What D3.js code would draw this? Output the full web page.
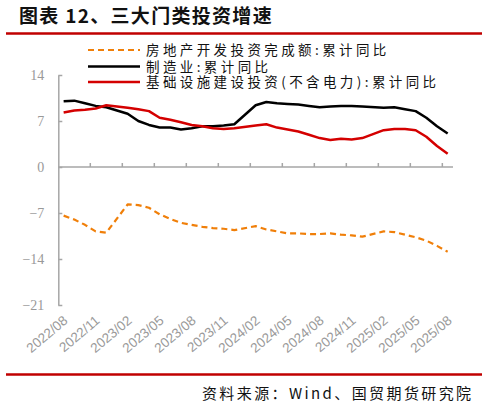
<!DOCTYPE html>
<html>
<head>
<meta charset="utf-8">
<script src="https://cdn.jsdelivr.net/npm/d3@7"></script>
<style>
  body { margin: 0; background: #fff; }
  svg { display: block; }
</style>
</head>
<body>
<svg id="chart"></svg>
<script>
// months on the category axis (January not published, left as null)
var months = ["2022/08","2022/09","2022/10","2022/11","2022/12",
  "2023/01","2023/02","2023/03","2023/04","2023/05","2023/06","2023/07","2023/08","2023/09","2023/10","2023/11","2023/12",
  "2024/01","2024/02","2024/03","2024/04","2024/05","2024/06","2024/07","2024/08","2024/09","2024/10","2024/11","2024/12",
  "2025/01","2025/02","2025/03","2025/04","2025/05","2025/06","2025/07","2025/08"];

var realEstate = [-7.4,-8.0,-8.8,-9.8,-10.0,
  null,-5.7,-5.8,-6.2,-7.2,-7.9,-8.5,-8.8,-9.1,-9.3,-9.4,-9.6,
  null,-9.0,-9.5,-9.8,-10.1,-10.1,-10.2,-10.2,-10.1,-10.3,-10.4,-10.6,
  null,-9.8,-9.9,-10.3,-10.7,-11.2,-12.0,-12.9];

var manufacturing = [10.0,10.1,9.7,9.3,9.1,
  null,8.1,7.0,6.4,6.0,6.0,5.7,5.9,6.2,6.2,6.3,6.5,
  null,9.4,9.9,9.7,9.6,9.5,9.3,9.1,9.2,9.3,9.3,9.2,
  null,9.0,9.1,8.8,8.5,7.5,6.2,5.1];

var infra = [8.3,8.6,8.7,8.9,9.4,
  null,9.0,8.8,8.5,7.5,7.2,6.8,6.4,6.2,5.9,5.8,5.9,
  null,6.3,6.5,6.0,5.7,5.4,4.9,4.4,4.1,4.3,4.2,4.4,
  null,5.6,5.8,5.8,5.6,4.6,3.2,2.0];

var yTicks = [14, 7, 0, -7, -14, -21];
var labelMonths = months.filter(function(d, i) { return i % 3 === 0; });

var seriesNames = ["房地产开发投资完成额:累计同比", "制造业:累计同比", "基础设施建设投资(不含电力):累计同比"];

var width = 487, height = 407;
var plot = {left: 58.3, right: 453, top: 75, bottom: 305};

var svg = d3.select("#chart")
    .attr("width", width)
    .attr("height", height);

// Title + red rules
svg.append("text")
    .attr("x", 19)
    .attr("y", 23)
    .attr("font-family", "'Noto Sans CJK SC', sans-serif")
    .attr("font-weight", "bold")
    .attr("font-size", 19)
    .attr("letter-spacing", 1.3)
    .attr("fill", "#111")
    .text("图表 12、三大门类投资增速");

svg.append("line")
    .attr("x1", 6).attr("x2", 482)
    .attr("y1", 33.5).attr("y2", 33.5)
    .attr("stroke", "#C00000")
    .attr("stroke-width", 2.5);

svg.append("line")
    .attr("x1", 6).attr("x2", 482)
    .attr("y1", 374.5).attr("y2", 374.5)
    .attr("stroke", "#C00000")
    .attr("stroke-width", 2.5);

svg.append("text")
    .attr("x", 473.5)
    .attr("y", 399)
    .attr("text-anchor", "end")
    .attr("font-family", "'Noto Sans CJK SC', sans-serif")
    .attr("font-size", 15)
    .attr("letter-spacing", 2.4)
    .attr("fill", "#111")
    .text("资料来源：Wind、国贸期货研究院");

// Scales
var x = d3.scaleBand()
    .domain(months)
    .range([plot.left, plot.right])
    .paddingInner(0)
    .paddingOuter(0);

var y = d3.scaleLinear()
    .domain([-21, 14])
    .range([plot.bottom, plot.top]);

var axisColor = "#A6A6A6";

// Y axis, ticks pointing inward
var yAxis = svg.append("g")
    .attr("transform", "translate(" + plot.left + ",0)")
    .call(d3.axisLeft(y)
        .tickValues(yTicks)
        .tickSizeInner(-4)
        .tickSizeOuter(0)
        .tickPadding(14));

yAxis.selectAll("path, line")
    .attr("stroke", axisColor)
    .attr("stroke-width", 1.5);
yAxis.selectAll("text")
    .attr("font-family", "'Liberation Serif', serif")
    .attr("font-size", 14)
    .attr("fill", "#999");

// X axis along zero, ticks between every 3 categories pointing up
var y0 = y(0);
svg.append("line")
    .attr("x1", plot.left).attr("x2", plot.right)
    .attr("y1", y0).attr("y2", y0)
    .attr("stroke", axisColor)
    .attr("stroke-width", 1.5);

svg.append("g")
    .selectAll("line")
    .data(months.filter(function(d, i) { return i > 0 && i % 3 === 0; }))
    .join("line")
    .attr("x1", function(d) { return x(d); })
    .attr("x2", function(d) { return x(d); })
    .attr("y1", y0)
    .attr("y2", y0 - 4)
    .attr("stroke", axisColor)
    .attr("stroke-width", 1.5);

svg.append("g")
    .selectAll("text")
    .data(labelMonths)
    .join("text")
    .attr("transform", function(d) {
        return "translate(" + (x(d) + x.bandwidth() / 2 + 5) + "," + (plot.bottom + 17) + ") rotate(-40)";
    })
    .attr("text-anchor", "end")
    .attr("font-family", "'Liberation Sans', Arial, sans-serif")
    .attr("font-size", 13.5)
    .attr("fill", "#999")
    .text(function(d) { return d; });

// Lines
var line = d3.line()
    .x(function(d) { return x(d.m) + x.bandwidth() / 2; })
    .y(function(d) { return y(d.v); });

function pts(values) {
    return months.map(function(m, i) { return {m: m, v: values[i]}; })
        .filter(function(d) { return d.v !== null; });
}

var series = [
    {values: realEstate, color: "#F07F09", width: 2.2, dash: "6,4"},
    {values: manufacturing, color: "#000000", width: 2.5, dash: null},
    {values: infra, color: "#D40000", width: 2.5, dash: null}
];

series.forEach(function(s) {
    svg.append("path")
        .datum(pts(s.values))
        .attr("fill", "none")
        .attr("stroke", s.color)
        .attr("stroke-width", s.width)
        .attr("stroke-dasharray", s.dash)
        .attr("stroke-linejoin", "round")
        .attr("d", line);
});

// Legend
var legend = svg.append("g");
var legendY = [50, 66.5, 82];
series.forEach(function(s, i) {
    legend.append("line")
        .attr("x1", 88).attr("x2", 140)
        .attr("y1", legendY[i]).attr("y2", legendY[i])
        .attr("stroke", s.color)
        .attr("stroke-width", s.width)
        .attr("stroke-dasharray", s.dash);
    legend.append("text")
        .attr("x", 146)
        .attr("y", legendY[i] + 5)
        .attr("font-family", "'Noto Sans CJK SC', sans-serif")
        .attr("font-size", 13.5)
        .attr("letter-spacing", 3.4)
        .attr("fill", "#111")
        .text(seriesNames[i]);
});
</script>
</body>
</html>
